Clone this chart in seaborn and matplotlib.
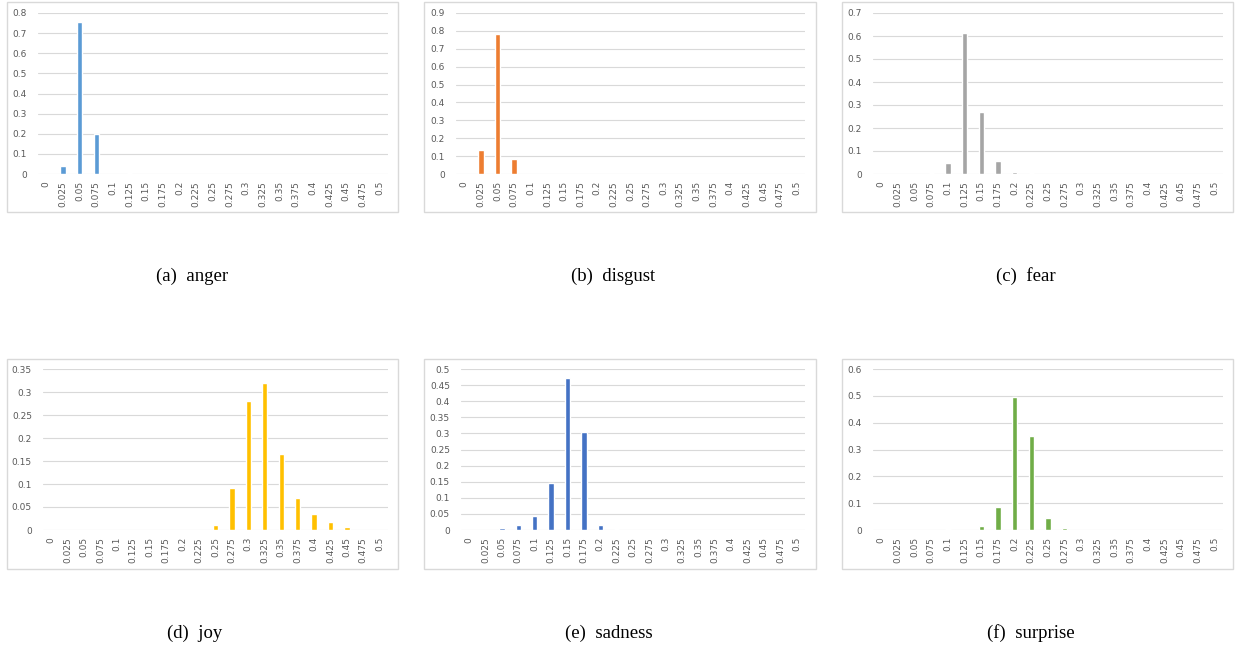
import matplotlib
matplotlib.use("Agg")
import matplotlib.pyplot as plt
import seaborn as sns
import pandas as pd
from matplotlib.patches import Rectangle

categories = ["0", "0.025", "0.05", "0.075", "0.1", "0.125", "0.15", "0.175", "0.2", "0.225",
              "0.25", "0.275", "0.3", "0.325", "0.35", "0.375", "0.4", "0.425", "0.45", "0.475", "0.5"]

anger = [0, 0.041, 0.754, 0.200, 0.001, 0.004, 0.001, 0, 0, 0, 0, 0, 0, 0, 0, 0, 0, 0, 0, 0, 0]
disgust = [0, 0.132, 0.781, 0.084, 0, 0.002, 0, 0, 0.002, 0, 0, 0, 0, 0, 0, 0, 0, 0, 0, 0, 0]
fear = [0, 0, 0, 0.003, 0.046, 0.611, 0.269, 0.058, 0.009, 0.003, 0, 0, 0, 0, 0, 0, 0.002, 0, 0, 0, 0]
joy = [0, 0, 0, 0, 0, 0, 0, 0, 0, 0, 0.0116, 0.092, 0.281, 0.319, 0.166, 0.070, 0.034, 0.017, 0.007, 0.001, 0.001]
sadness = [0, 0.001, 0.006, 0.0145, 0.045, 0.146, 0.471, 0.303, 0.0155, 0.003, 0, 0, 0, 0, 0, 0, 0, 0, 0, 0, 0]
surprise = [0, 0, 0, 0, 0.004, 0, 0.016, 0.084, 0.494, 0.349, 0.043, 0.006, 0, 0, 0, 0, 0, 0, 0, 0, 0]

captions = ["(a)  anger", "(b)  disgust", "(c)  fear", "(d)  joy", "(e)  sadness", "(f)  surprise"]
series = [anger, disgust, fear, joy, sadness, surprise]
colors = ["#5B9BD5", "#ED7D31", "#A5A5A5", "#FFC000", "#4472C4", "#70AD47"]
ymax = [0.8, 0.9, 0.7, 0.35, 0.5, 0.6]
ystep = [0.1, 0.1, 0.1, 0.05, 0.05, 0.1]

sns.set_theme(style="white")
plt.rcParams['font.family'] = ['DejaVu Sans']

W, H = 1238, 646
fig = plt.figure(figsize=(W / 100, H / 100), dpi=100)
fig.patch.set_facecolor("white")

# pixel layout (left, right, top, bottom) of plot areas and boxes
plot_areas = [(38, 388, 13, 174), (456, 805, 13, 174), (873, 1223, 13, 174),
              (43, 388, 369, 530), (461, 805, 369, 530), (873, 1223, 369, 530)]
boxes = [(7, 398, 2, 212), (424, 816, 2, 212), (842, 1233, 2, 212),
         (7, 398, 359, 569), (424, 816, 359, 569), (842, 1233, 359, 569)]
caption_pos = [(192, 276), (613, 276), (1026, 276), (195, 633), (609, 633), (1031, 633)]

for i in range(6):
    bl, br, bt, bb = boxes[i]
    fig.patches.append(Rectangle((bl / W, 1 - bb / H), (br - bl) / W, (bb - bt) / H,
                                 transform=fig.transFigure, fill=False,
                                 edgecolor="#D9D9D9", linewidth=1.0))
    l, r, t, b = plot_areas[i]
    ax = fig.add_axes([l / W, 1 - b / H, (r - l) / W, (b - t) / H])
    df = pd.DataFrame({"bin": categories, "value": series[i]})
    sns.barplot(data=df, x="bin", y="value", color=colors[i], width=0.33,
                saturation=1, ax=ax, order=categories)
    ax.set_xlim(-0.5, len(categories) - 0.5)
    ax.set_ylim(0, ymax[i])
    n = int(round(ymax[i] / ystep[i]))
    ticks = [round(k * ystep[i], 4) for k in range(n + 1)]
    ax.set_yticks(ticks)
    ax.set_yticklabels([("%g" % v) for v in ticks])
    ax.set_xlabel("")
    ax.set_ylabel("")
    ax.grid(axis="y", color="#D9D9D9", linewidth=0.8)
    ax.set_axisbelow(True)
    for s in ax.spines.values():
        s.set_visible(False)
    ax.tick_params(axis="both", length=0, labelsize=6.5, colors="#595959")
    ax.tick_params(axis="y", pad=8)
    ax.tick_params(axis="x", pad=5)
    for lab in ax.get_xticklabels():
        lab.set_rotation(90)
    ax.set_facecolor("none")
    cx, cy = caption_pos[i]
    fig.text(cx / W, 1 - cy / H, captions[i], ha="center", va="center",
             fontsize=13.5, family="Liberation Serif", color="black")

fig.savefig("out.png", dpi=100, facecolor="white")
